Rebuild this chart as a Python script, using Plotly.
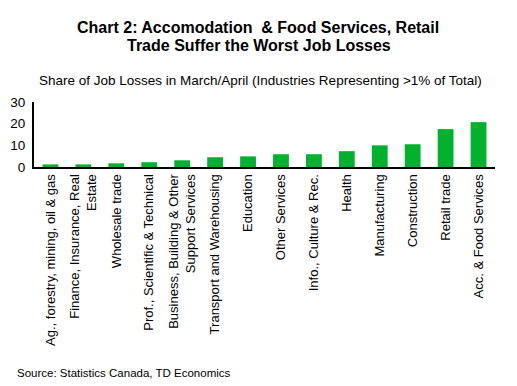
import plotly.graph_objects as go

categories = [
    "Ag., forestry, mining, oil & gas",
    "Finance, Insurance, Real<br>Estate",
    "Wholesale trade",
    "Prof., Scientific & Technical",
    "Business, Building & Other<br>Support Services",
    "Transport and Warehousing",
    "Education",
    "Other Services",
    "Info., Culture & Rec.",
    "Health",
    "Manufacturing",
    "Construction",
    "Retail trade",
    "Acc. & Food Services",
]
values = [1.2, 1.2, 1.7, 2.2, 3.1, 4.5, 4.9, 5.9, 5.9, 7.3, 10.0, 10.5, 17.5, 20.7]
y_ticks = [0, 10, 20, 30]

fig = go.Figure(go.Bar(x=categories, y=values, marker_color="#00B22D", marker_line_width=0))

# page has an 8px body margin, so the figure is slightly smaller than the window
W, H = 509, 378
PH = 65.0  # plot height in px


def py(page_y):
    """page pixel y -> paper y"""
    return (167 - page_y) / PH


def px(page_x):
    return (page_x - 34) / 461.0


fig.update_layout(
    width=W, height=H,
    paper_bgcolor="white", plot_bgcolor="white",
    margin=dict(l=26, r=22, t=94, b=219),
    bargap=0.52,
    showlegend=False,
    font=dict(family="Liberation Sans, Arial", color="black"),
)
fig.update_xaxes(
    tickangle=-90, tickfont=dict(size=13), showline=True, linecolor="black", linewidth=2,
    ticks="", showgrid=False, automargin=False,
)
fig.update_yaxes(
    range=[0, 30], tickvals=y_ticks, tickfont=dict(size=13.5), showline=True, linecolor="black",
    linewidth=2, ticks="", showgrid=False, zeroline=False, automargin=False,
    ticklabelstandoff=4,
)
fig.add_annotation(
    text="<b>Chart 2: Accomodation  & Food Services, Retail</b>",
    xref="paper", yref="paper", x=px(258), y=py(27), xanchor="center", yanchor="middle",
    showarrow=False, font=dict(size=16),
)
fig.add_annotation(
    text="<b>Trade Suffer the Worst Job Losses</b>",
    xref="paper", yref="paper", x=px(259), y=py(45), xanchor="center", yanchor="middle",
    showarrow=False, font=dict(size=16),
)
fig.add_annotation(
    text="Share of Job Losses in March/April (Industries Representing >1% of Total)",
    xref="paper", yref="paper", x=px(260), y=py(80), xanchor="center", yanchor="middle",
    showarrow=False, font=dict(size=13.5),
)
fig.add_annotation(
    text="Source: Statistics Canada, TD Economics",
    xref="paper", yref="paper", x=px(15), y=py(373), xanchor="left", yanchor="middle",
    showarrow=False, font=dict(size=11.5),
)
fig.write_html("out.html")
